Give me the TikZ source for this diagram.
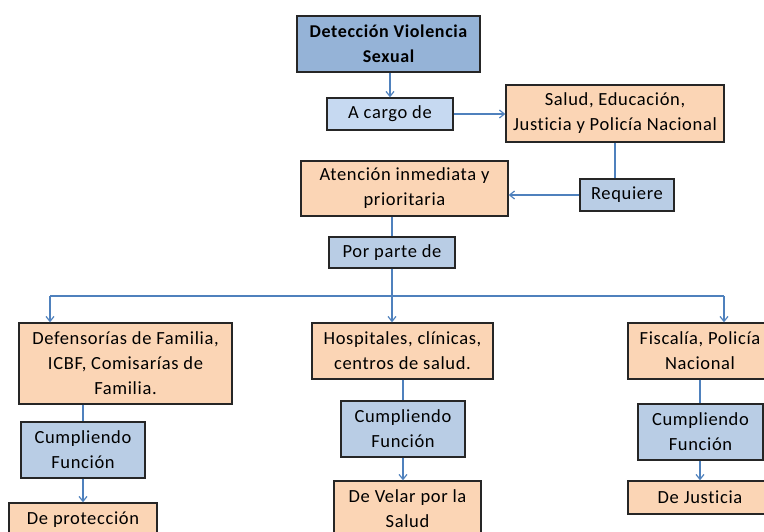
\documentclass[tikz,border=0pt]{standalone}
\usepackage{fontspec}
\setmainfont{Carlito}[LetterSpace=3.5,Ligatures=NoCommon]
\usetikzlibrary{arrows.meta}
\definecolor{bdark}{HTML}{95B3D7}
\definecolor{blight}{HTML}{C6D9F1}
\definecolor{bmid}{HTML}{B9CDE5}
\definecolor{orng}{HTML}{FBD5B5}
\definecolor{lnk}{HTML}{4F81BD}
\definecolor{edge}{HTML}{262626}
\tikzset{
  box/.style={draw=edge, line width=1.3pt, align=center, inner sep=1pt,
    font=\fontsize{18.5}{25}\selectfont, text=black},
  orbox/.style={box, fill=orng},
  blbox/.style={box, fill=bmid},
  conn/.style={draw=lnk, line width=1.2pt},
  arr/.style={conn, -{Straight Barb[length=5pt,width=8pt]}},
}
\begin{document}
\begin{tikzpicture}[x=1pt,y=-1pt]
\useasboundingbox (0,0) rectangle (764,532);
\clip (0,0) rectangle (764,532);
\node[box, fill=bdark, font=\fontsize{18}{25}\selectfont\bfseries, minimum width=183pt, minimum height=56pt] (top) at (388.5,44) {Detección Violencia\\Sexual};
\node[box, fill=blight, minimum width=126pt, minimum height=32pt] (acargo) at (390,114) {A cargo de};
\node[orbox, minimum width=218pt, minimum height=57pt] (salud) at (615,113.5) {Salud, Educación,\\Justicia y Policía Nacional};
\node[blbox, minimum width=94pt, minimum height=32pt] (requiere) at (627,195) {Requiere};
\node[orbox, minimum width=207pt, minimum height=55pt] (atencion) at (404.5,188.5) {Atención inmediata y\\prioritaria};
\node[blbox, minimum width=126pt, minimum height=31pt] (porparte) at (392,252.5) {Por parte de};
\node[orbox, minimum width=213pt, minimum height=81pt] (defens) at (125.5,363.5) {Defensorías de Familia,\\ICBF, Comisarías de\\Familia.};
\node[blbox, minimum width=124pt, minimum height=56pt] (cump1) at (83,450) {Cumpliendo\\Función};
\node[orbox, minimum width=148pt, minimum height=33pt] (deprot) at (83,519.5) {De protección};
\node[orbox, minimum width=181pt, minimum height=56pt] (hosp) at (402.5,351) {Hospitales, clínicas,\\centros de salud.};
\node[blbox, minimum width=124pt, minimum height=56pt] (cump2) at (403,429) {Cumpliendo\\Función};
\node[orbox, minimum width=147pt, minimum height=56pt] (develar) at (407.5,509) {De Velar por la\\Salud};
\node[orbox, minimum width=144pt, minimum height=56pt] (fisc) at (700,351) {Fiscalía, Policía\\Nacional};
\node[blbox, minimum width=125pt, minimum height=56pt] (cump3) at (700.5,432) {Cumpliendo\\Función};
\node[orbox, minimum width=144pt, minimum height=33pt] (justicia) at (700,497.5) {De Justicia};
\coordinate (bL) at (50,296);
\coordinate (bM) at (392,296);
\coordinate (bR) at (724,296);
\draw[arr] (acargo.north |- top.south) -- (acargo.north);
\draw[arr] (acargo.east) -- (acargo.east -| salud.west);
\draw[conn] (salud.south) -- (salud.south |- requiere.north);
\draw[arr] (requiere.west) -- (requiere.west -| atencion.east);
\draw[conn] (porparte.north |- atencion.south) -- (porparte.north);
\draw[conn] (porparte.south) -- (bM);
\draw[conn] (bL) -- (bR);
\draw[arr] (bL) -- (bL |- defens.north);
\draw[arr] (bM) -- (bM |- hosp.north);
\draw[arr] (bR) -- (bR |- fisc.north);
\draw[conn] (cump1.north |- defens.south) -- (cump1.north);
\draw[arr] (cump1.south) -- (deprot.north);
\draw[conn] (cump2.north |- hosp.south) -- (cump2.north);
\draw[arr] (cump2.south) -- (cump2.south |- develar.north);
\draw[conn] (fisc.south) -- (fisc.south |- cump3.north);
\draw[arr] (fisc.south |- cump3.south) -- (fisc.south |- justicia.north);
\end{tikzpicture}
\end{document}
